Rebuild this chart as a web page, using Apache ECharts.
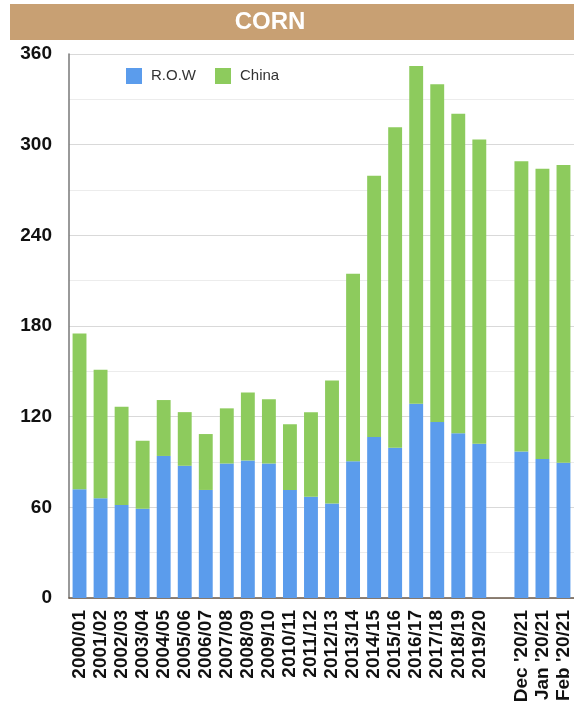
<!DOCTYPE html>
<html>
<head>
<meta charset="utf-8">
<script src="https://cdn.jsdelivr.net/npm/echarts@6/dist/echarts.min.js"></script>
<style>
html,body{margin:0;padding:0;background:#fff;}
#chart{width:574px;height:711px;}
</style>
</head>
<body>
<div id="chart"></div>
<script>
const categories = ["2000/01","2001/02","2002/03","2003/04","2004/05","2005/06","2006/07","2007/08","2008/09","2009/10","2010/11","2011/12","2012/13","2013/14","2014/15","2015/16","2016/17","2017/18","2018/19","2019/20","","Dec '20/21","Jan '20/21","Feb '20/21"];
const rowValues = [72, 66, 61.5, 59, 94, 87.5, 71.5, 89, 91, 89, 71.5, 67, 62.5, 90.5, 106.5, 99.5, 128.5, 116.5, 109, 102, null, 97, 92, 89.5];
const totalValues = [175, 151, 126.5, 104, 131, 123, 108.5, 125.5, 136, 131.5, 115, 123, 144, 214.5, 279.5, 311.5, 352, 340, 320.5, 303.5, null, 289, 284, 286.5];
const chinaValues = totalValues.map((t, i) => (t === null ? null : +(t - rowValues[i]).toFixed(1)));
const yTicks = [0, 60, 120, 180, 240, 300, 360];

const chart = echarts.init(document.getElementById('chart'));
chart.setOption({
  animation: false,
  graphic: [
    { type: 'rect', shape: { x: 10, y: 4, width: 580, height: 36 }, style: { fill: '#C8A073' }, z: 10 },
    { type: 'text', x: 270, y: 22, style: { text: 'CORN', fill: '#ffffff', font: 'bold 24px "Liberation Sans", Arial, sans-serif', textAlign: 'center', textVerticalAlign: 'middle' }, z: 11 }
  ],
  legend: {
    left: 121, top: 63,
    itemWidth: 16, itemHeight: 16, itemGap: 19,
    icon: 'rect',
    textStyle: { fontSize: 15, color: '#333', fontFamily: '"Liberation Sans", Arial, sans-serif', padding: [0, 0, 0, 4] },
    data: ['R.O.W', 'China']
  },
  grid: { left: 69, right: -5, top: 54, bottom: 113, containLabel: false },
  xAxis: {
    type: 'category',
    data: categories,
    axisLine: { show: true, lineStyle: { color: '#6b5a4a', width: 1.5 } },
    axisTick: { show: false },
    axisLabel: {
      interval: 0, rotate: 90, margin: 12,
      fontSize: 19, fontWeight: 'bold', color: '#111',
      fontFamily: '"Liberation Sans", Arial, sans-serif'
    }
  },
  yAxis: {
    type: 'value',
    min: yTicks[0], max: yTicks[yTicks.length - 1], interval: 60,
    axisLine: { show: true, lineStyle: { color: '#777', width: 1.5 } },
    axisTick: { show: false },
    axisLabel: {
      margin: 17, fontSize: 19, fontWeight: 'bold', color: '#111',
      fontFamily: '"Liberation Sans", Arial, sans-serif'
    },
    splitLine: { show: true, lineStyle: { color: '#d9d9d9', width: 1 } },
    minorTick: { show: false, splitNumber: 2 },
    minorSplitLine: { show: true, lineStyle: { color: '#ececec', width: 1 } }
  },
  series: [
    { name: 'R.O.W', type: 'bar', stack: 'total', data: rowValues, barCategoryGap: '34%', itemStyle: { color: '#5B9CEC' } },
    { name: 'China', type: 'bar', stack: 'total', data: chinaValues, barCategoryGap: '34%', itemStyle: { color: '#8DCB5D' } }
  ]
});
</script>
</body>
</html>
